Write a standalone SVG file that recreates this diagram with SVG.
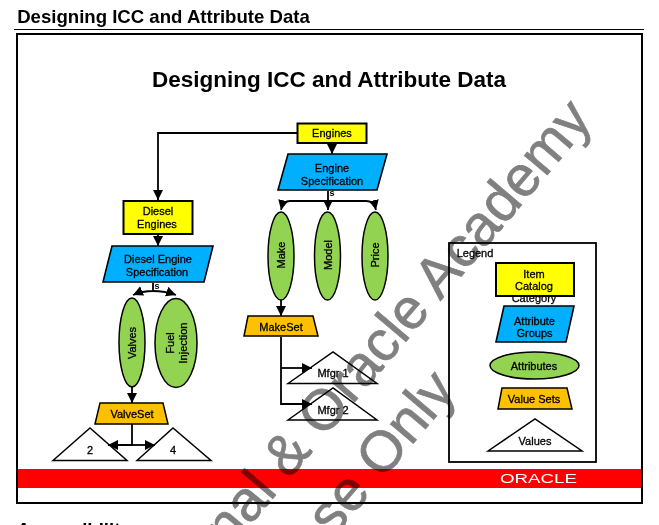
<svg xmlns="http://www.w3.org/2000/svg" width="659" height="525" viewBox="0 0 659 525">
<style>
text{font-family:"Liberation Sans",Arial,sans-serif;fill:#000;text-anchor:middle}
.l{font-size:11px;stroke:#000;stroke-width:.3px}
.cat{fill:#ffff00;stroke:#000;stroke-width:2}
.grp{fill:#00b0ff;stroke:#000;stroke-width:1.600}
.att{fill:#92d452;stroke:#000;stroke-width:1.500}
.set{fill:#ffc000;stroke:#000;stroke-width:1.500}
.val{fill:#fff;stroke:#000;stroke-width:1.500}
.c{fill:none;stroke:#000;stroke-width:1.800}
.wm{font-size:57px;fill:#808080;stroke:#808080;stroke-width:.7px;text-anchor:end;mix-blend-mode:multiply}
</style>
<defs>
<marker id="a" markerUnits="userSpaceOnUse" markerWidth="12" markerHeight="12" refX="10" refY="5" orient="auto"><path d="M0 0L10 5L0 10Z" fill="#000"/></marker>
</defs>
<rect width="659" height="525" fill="#fff"/>
<text x="163.500" y="23" style="font-size:18.600px;font-weight:700">Designing ICC and Attribute Data</text>
<path d="M14 29.500H644" stroke="#000" stroke-width="1"/>
<rect x="17" y="34" width="625" height="469" fill="#fff" stroke="#000" stroke-width="2"/>
<rect x="18" y="469" width="623" height="19" fill="#f00"/>
<text x="329" y="87" style="font-size:22.500px;font-weight:700">Designing ICC and Attribute Data</text>
<text x="17" y="536" style="font-size:18.600px;font-weight:700;text-anchor:start">Accessibility</text>

<g id="engines"><rect class="cat" x="297.500" y="123.500" width="69" height="19.500"/><text class="l" x="332" y="137">Engines</text></g>
<g id="engine-spec"><path class="grp" d="M278 190L288 154H387L377 190Z"/><text class="l" x="332" y="172">Engine</text><text class="l" x="332" y="184.500">Specification</text></g>
<g id="diesel"><rect class="cat" x="123.500" y="201" width="69" height="33"/><text class="l" x="158" y="215">Diesel</text><text class="l" x="157" y="228">Engines</text></g>
<g id="diesel-spec"><path class="grp" d="M103 282L112 246H213L204 282Z"/><text class="l" x="158" y="263">Diesel Engine</text><text class="l" x="157" y="276">Specification</text></g>
<g id="make"><ellipse class="att" cx="281" cy="256" rx="13" ry="44"/><text class="l" transform="translate(284.500 255) rotate(-90)">Make</text></g>
<g id="model"><ellipse class="att" cx="327.500" cy="256" rx="13" ry="44"/><text class="l" transform="translate(331.500 255) rotate(-90)">Model</text></g>
<g id="price"><ellipse class="att" cx="375" cy="256" rx="13" ry="44"/><text class="l" transform="translate(379 255) rotate(-90)">Price</text></g>
<g id="valves"><ellipse class="att" cx="132" cy="342.500" rx="13" ry="44.500"/><text class="l" transform="translate(135.500 343) rotate(-90)">Valves</text></g>
<g id="fuel"><ellipse class="att" cx="176" cy="343" rx="21" ry="44.500"/><text class="l" transform="translate(174 343) rotate(-90)">Fuel</text><text class="l" transform="translate(186.500 343) rotate(-90)">Injection</text></g>
<g id="makeset"><path class="set" d="M244 336L248 316H313L318 336Z"/><text class="l" x="281" y="331">MakeSet</text></g>
<g id="valveset"><path class="set" d="M95 424L100 403H163L168 424Z"/><text class="l" x="132" y="418">ValveSet</text></g>
<g id="mfgr1"><path class="val" d="M288 383.500L333 352L377 383.500Z"/><text class="l" x="333" y="377">Mfgr 1</text></g>
<g id="mfgr2"><path class="val" d="M288 420L333 388L377 420Z"/><text class="l" x="333" y="414">Mfgr 2</text></g>
<g id="v2"><path class="val" d="M53 460.500L90 428L127 460.500Z"/><text class="l" x="90" y="454">2</text></g>
<g id="v4"><path class="val" d="M137 460.500L173 428L211 460.500Z"/><text class="l" x="173" y="454">4</text></g>

<g id="legend"><rect x="449" y="243" width="147" height="219" fill="none" stroke="#000" stroke-width="1.800"/><text class="l" x="475" y="257">Legend</text></g>
<g id="legend-cat"><text class="l" x="534" y="302">Category</text><rect class="cat" x="496" y="263" width="78" height="33"/><text class="l" x="534" y="278">Item</text><text class="l" x="534" y="290">Catalog</text></g>
<g id="legend-grp"><path class="grp" d="M496 342L504 306H574L566 342Z"/><text class="l" x="534.500" y="325">Attribute</text><text class="l" x="534.500" y="337">Groups</text></g>
<g id="legend-att"><ellipse class="att" cx="534.500" cy="365.500" rx="44.500" ry="13.500"/><text class="l" x="534" y="370">Attributes</text></g>
<g id="legend-set"><path class="set" d="M498 409L502 388H567L572 409Z"/><text class="l" x="534" y="403">Value Sets</text></g>
<g id="legend-val"><path class="val" d="M488 451L535 419L582 451Z"/><text class="l" x="535" y="445">Values</text></g>

<g id="connectors">
<path class="c" d="M297 133H158V200" marker-end="url(#a)"/>
<path class="c" d="M332 143V154" marker-end="url(#a)"/>
<path class="c" d="M158 234V246" marker-end="url(#a)"/>
<path class="c" d="M328 191V210" marker-end="url(#a)"/>
<path class="c" d="M328 201H290Q283 201 281 210" marker-end="url(#a)"/>
<path class="c" d="M328 201H366Q374 201 376 210" marker-end="url(#a)"/>
<path class="c" d="M153 283V291Q142 291 133 295" marker-end="url(#a)"/>
<path class="c" d="M153 291Q165 291 176 295" marker-end="url(#a)"/>
<path class="c" d="M281 300V316" marker-end="url(#a)"/>
<path class="c" d="M132 387V403" marker-end="url(#a)"/>
<path class="c" d="M281 337V404H312" marker-end="url(#a)"/>
<path class="c" d="M281 368H312" marker-end="url(#a)"/>
<path class="c" d="M132 424V445H108" marker-end="url(#a)"/>
<path class="c" d="M132 445H155" marker-end="url(#a)"/>
<text x="332" y="196" style="font-size:9px;font-weight:700">s</text>
<text x="157" y="289" style="font-size:9px;font-weight:700">s</text>
</g>

<text x="538.500" y="483" textLength="77" lengthAdjust="spacingAndGlyphs" style="font-size:12px;fill:#fff">ORACLE</text>
<text class="wm" transform="translate(594 120) rotate(-49.700)">nal &amp; Oracle Academy</text>
<text class="wm" transform="translate(458 391) rotate(-49.700)">se Only</text>
</svg>
